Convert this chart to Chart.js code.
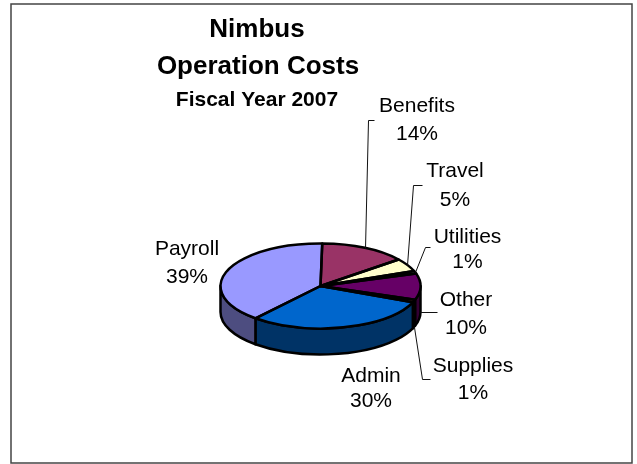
<!DOCTYPE html>
<html>
<head>
<meta charset="utf-8">
<style>html,body{margin:0;padding:0;background:#fff}canvas{display:block}</style>
<script src="https://cdn.jsdelivr.net/npm/chart.js@4"></script>
</head>
<body>
<canvas id="c" width="637" height="464"></canvas>
<script>
const categories = ["Benefits","Travel","Utilities","Other","Supplies","Admin","Payroll"];
const percents = [14,5,1,10,1,30,39];
const topColors = ["#993366","#FFFFCC","#CCFFFF","#660066","#FF8080","#0066CC","#9999FF"];
const sideColors = ["#4D1A33","#808066","#668080","#330033","#804040","#003366","#4D4D80"];
const titleLines = ["Nimbus","Operation Costs","Fiscal Year 2007"];

const SQUASH = 0.425, DEPTH = 26;
const titlePlace = [[257,37,"bold 26px"],[258,74,"bold 26px"],[257,106,"bold 21px"]];
// label centre x, baseline of name, baseline of percent
const labelPlace = [[417,112,140],[455,177,206],[467.5,243,268],[466,306,334],[473,372,399],[371,382,407],[187,255,283]];
// leader elbow points, from the slice edge outward (null = no leader)
const leaderPlace = [
  [[368,120],[374,120]],
  [[413,185],[422,185]],
  [[425,247],[430,247]],
  [[437,312]],
  [[422,379],[430,379]],
  null, null];

const pie3d = {
  id: 'pie3d',
  beforeDraw(chart) {
    const ctx = chart.ctx;
    ctx.save();
    ctx.fillStyle = '#fff';
    ctx.fillRect(0,0,chart.width,chart.height);
    ctx.strokeStyle = '#444';
    ctx.lineWidth = 1.5;
    ctx.strokeRect(11,4,621,459);
    ctx.restore();
  },
  beforeDatasetsDraw(chart) {
    const ctx = chart.ctx, arcs = chart.getDatasetMeta(0).data;
    const {x:cx,y:cy,outerRadius:r} = arcs[0];
    const ry = r*SQUASH;
    // side wall, built from the arc elements' own angles
    ctx.save();
    ctx.lineWidth = 2.5; ctx.strokeStyle = '#000'; ctx.lineJoin = 'round';
    arcs.forEach((arc,i) => {
      const a0 = arc.startAngle, a1 = arc.endAngle;
      const segs = [];
      const t = 2*Math.PI;
      for (const k of [-1,0,1]) {
        const s = Math.max(a0, k*t), e = Math.min(a1, k*t+Math.PI);
        if (e > s) segs.push([s,e]);
      }
      segs.forEach(([s,e]) => {
        ctx.beginPath();
        ctx.ellipse(cx,cy,r,ry,0,s,e);
        ctx.ellipse(cx,cy+DEPTH,r,ry,0,e,s,true);
        ctx.closePath();
        ctx.fillStyle = sideColors[i];
        ctx.fill(); ctx.stroke();
      });
    });
    ctx.restore();
    // top face: the library's arcs, drawn through a vertical squash
    ctx.save();
    ctx.translate(cx,cy); ctx.scale(1,SQUASH); ctx.translate(-cx,-cy);
  },
  afterDatasetsDraw(chart) {
    const ctx = chart.ctx, arcs = chart.getDatasetMeta(0).data;
    ctx.restore();
    const {x:cx,y:cy,outerRadius:r} = arcs[0];
    const ry = r*SQUASH;
    // uniform outline of each slice
    ctx.save();
    ctx.lineWidth = 2.5; ctx.strokeStyle = '#000'; ctx.lineJoin = 'round';
    arcs.forEach(arc => {
      ctx.beginPath();
      ctx.moveTo(cx,cy);
      ctx.ellipse(cx,cy,r,ry,0,arc.startAngle,arc.endAngle);
      ctx.closePath();
      ctx.stroke();
    });
    ctx.restore();
    // leaders
    ctx.save();
    ctx.lineWidth = 1; ctx.strokeStyle = '#111';
    arcs.forEach((arc,i) => {
      const pts = leaderPlace[i];
      if (!pts) return;
      const m = (arc.startAngle+arc.endAngle)/2;
      const front = Math.sin(m) > -0.02;
      const sx = cx + r*Math.cos(m);
      const sy = cy + ry*Math.sin(m) + (front ? DEPTH : 0);
      ctx.beginPath();
      ctx.moveTo(Math.round(sx)+.5, (front && i===3 ? pts[0][1] : Math.round(sy))+.5);
      pts.forEach(p => ctx.lineTo(p[0]+.5,p[1]+.5));
      ctx.stroke();
    });
    ctx.restore();
    // texts
    ctx.save();
    ctx.textAlign = 'center'; ctx.textBaseline = 'alphabetic'; ctx.fillStyle = '#000';
    titleLines.forEach((s,i) => {
      const p = titlePlace[i];
      ctx.font = p[2] + ' "Liberation Sans", Arial, sans-serif';
      ctx.fillText(s,p[0],p[1]);
    });
    ctx.font = '21px "Liberation Sans", Arial, sans-serif';
    categories.forEach((s,i) => {
      const p = labelPlace[i];
      ctx.fillText(s,p[0],p[1]);
      ctx.fillText(percents[i]+'%',p[0],p[2]);
    });
    ctx.restore();
  }
};

new Chart(document.getElementById('c'), {
  type: 'pie',
  data: { labels: categories, datasets: [{ data: percents, backgroundColor: topColors, borderWidth: 0 }] },
  options: {
    responsive: false,
    animation: false,
    devicePixelRatio: 1,
    rotation: 1,
    layout: { padding: { left: 220, right: 216, top: 186, bottom: 78 } },
    plugins: { legend: { display: false }, tooltip: { enabled: false }, title: { display: false } }
  },
  plugins: [pie3d]
});
</script>
</body>
</html>
